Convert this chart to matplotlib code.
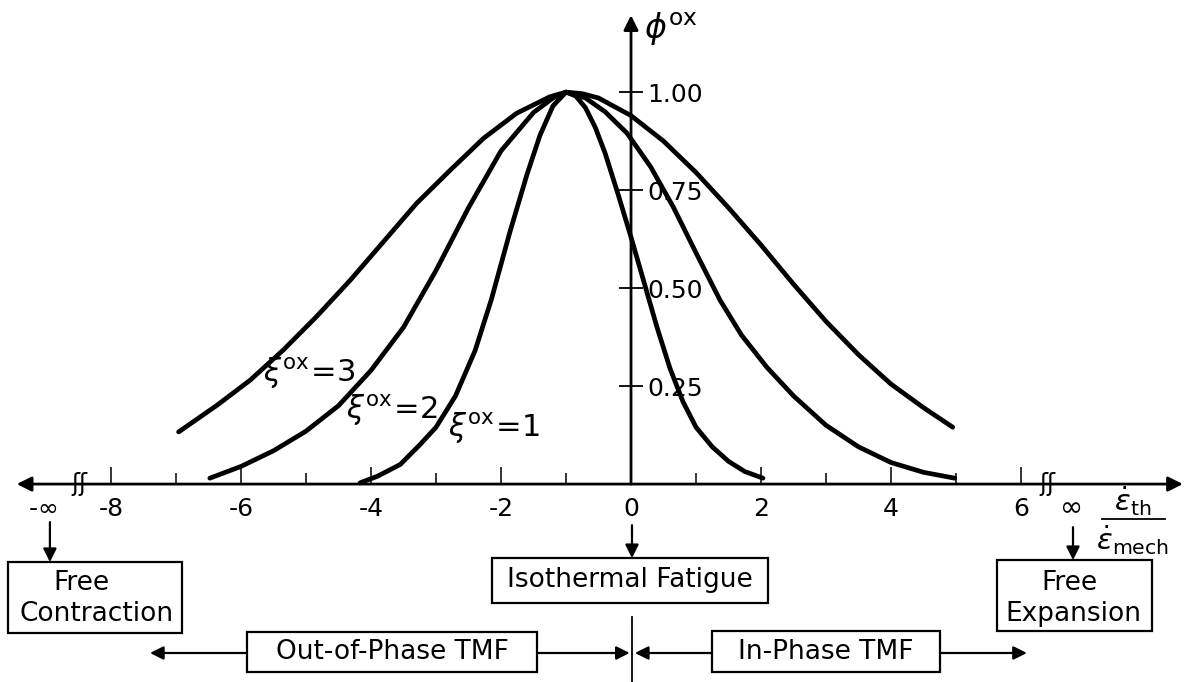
import numpy as np
import matplotlib.pyplot as plt
from matplotlib.patches import Rectangle

# values (x = eps_th/eps_mech, y = phi_ox)
x_xi1 = [-4.17, -3.9, -3.55, -3.25, -3.0, -2.7, -2.4, -2.15, -1.86, -1.6,
         -1.4, -1.2, -1.0, -0.85, -0.7, -0.55, -0.4, -0.2, 0.0, 0.2,
         0.4, 0.6, 0.8, 1.0, 1.25, 1.5, 1.75, 2.03]
phi_xi1 = [0.003, 0.02, 0.05, 0.1, 0.145, 0.225, 0.34, 0.47, 0.645, 0.79,
           0.89, 0.965, 1.0, 0.99, 0.96, 0.91, 0.845, 0.74, 0.63, 0.515,
           0.40, 0.295, 0.21, 0.145, 0.095, 0.058, 0.032, 0.015]

x_xi2 = [-6.48, -6.0, -5.5, -5.0, -4.5, -4.0, -3.5, -3.0, -2.5, -2.0,
         -1.5, -1.2, -1.0, -0.7, -0.4, -0.06, 0.3, 0.65, 1.0, 1.37,
         1.7, 2.09, 2.5, 3.0, 3.5, 4.0, 4.5, 4.98]
phi_xi2 = [0.015, 0.045, 0.085, 0.135, 0.2, 0.29, 0.4, 0.545, 0.705, 0.85,
           0.948, 0.985, 1.0, 0.985, 0.95, 0.895, 0.81, 0.707, 0.59, 0.469,
           0.38, 0.298, 0.225, 0.15, 0.095, 0.055, 0.03, 0.015]

x_xi3 = [-6.96, -6.37, -5.86, -5.35, -4.84, -4.32, -3.81, -3.30, -2.78,
         -2.27, -1.76, -1.25, -1.0, -0.75, -0.5, 0.0, 0.5, 1.0, 1.5, 2.0,
         2.5, 3.0, 3.5, 4.0, 4.5, 4.95]
phi_xi3 = [0.133, 0.201, 0.265, 0.342, 0.427, 0.52, 0.618, 0.716, 0.801,
           0.882, 0.946, 0.988, 1.0, 0.996, 0.985, 0.94, 0.875, 0.795, 0.705,
           0.61, 0.51, 0.415, 0.33, 0.255, 0.195, 0.145]

xticks_major = [-8, -6, -4, -2, 0, 2, 4, 6]
xtick_labels = ['-8', '-6', '-4', '-2', '0', '2', '4', '6']
xticks_minor = [-7, -5, -3, -1, 1, 3, 5]
yticks = [0.25, 0.50, 0.75, 1.00]
ytick_labels = ['0.25', '0.50', '0.75', '1.00']

fig = plt.figure(figsize=(11.9, 6.82), dpi=100)
ax = fig.add_axes([0, 0, 1, 1])
ax.set_xlim(-9.708, 8.6)
ax.set_ylim(-0.505, 1.235)
ax.patch.set_visible(False)

for s in ['left', 'top']:
    ax.spines[s].set_visible(False)
ax.spines['bottom'].set_position(('data', 0))
ax.spines['right'].set_position(('data', 0))
ax.spines['bottom'].set_visible(False)
ax.spines['right'].set_visible(False)

ax.set_xticks(xticks_major)
ax.set_xticklabels(xtick_labels)
ax.set_xticks(xticks_minor, minor=True)
ax.tick_params(axis='x', which='major', direction='in', length=12, width=1.1,
               pad=9, labelsize=18)
ax.tick_params(axis='x', which='minor', direction='in', length=8, width=1.1)

ax.yaxis.set_ticks_position('right')
ax.set_yticks(yticks)
ax.set_yticklabels(ytick_labels)
ax.tick_params(axis='y', direction='inout', length=17, width=1.3, pad=3,
               labelsize=18)

# axes lines with arrows
ax.annotate('', xy=(-9.45, 0), xytext=(8.49, 0),
            arrowprops=dict(arrowstyle='<|-|>', color='black', lw=2,
                            mutation_scale=22, shrinkA=0, shrinkB=0))
ax.annotate('', xy=(0, 1.196), xytext=(0, 0),
            arrowprops=dict(arrowstyle='-|>', color='black', lw=2,
                            mutation_scale=22, shrinkA=0, shrinkB=0))

# curves
for xs, ys in [(x_xi1, phi_xi1), (x_xi2, phi_xi2), (x_xi3, phi_xi3)]:
    ax.plot(xs, ys, color='black', lw=3.4, solid_capstyle='round',
            solid_joinstyle='round')

ax.text(-4.95, 0.285, r'$\xi^{\rm ox}\!=\!3$', fontsize=22, ha='center', va='center')
ax.text(-3.68, 0.19, r'$\xi^{\rm ox}\!=\!2$', fontsize=22, ha='center', va='center')
ax.text(-2.1, 0.145, r'$\xi^{\rm ox}\!=\!1$', fontsize=22, ha='center', va='center')

ax.text(0.62, 1.16, r'$\phi^{\rm ox}$', fontsize=24, ha='center', va='center')

# infinity ends and breaks
ax.text(-9.05, -0.061, r'-$\infty$', fontsize=18, ha='center', va='center')
ax.text(6.75, -0.056, r'$\infty$', fontsize=20, ha='center', va='center')
ax.text(-8.48, 0.0, 'ʃʃ', fontsize=17, ha='center', va='center')
ax.text(6.4, 0.0, 'ʃʃ', fontsize=17, ha='center', va='center')

# axis quantity
ax.text(7.72, -0.045, r'$\dot{\epsilon}_{\rm th}$', fontsize=21, ha='center', va='center')
ax.plot([7.25, 8.22], [-0.089, -0.089], color='black', lw=1.3)
ax.text(7.72, -0.143, r'$\dot{\epsilon}_{\rm mech}$', fontsize=21, ha='center', va='center')

arrow_kw = dict(arrowstyle='-|>', color='black', lw=1.6, mutation_scale=20,
                shrinkA=0, shrinkB=0)

# boxes
def box(x0, x1, y0, y1):
    ax.add_patch(Rectangle((x0, y0), x1 - x0, y1 - y0, fill=False,
                           edgecolor='black', lw=1.6, clip_on=False))

ax.annotate('', xy=(-8.94, -0.199), xytext=(-8.94, -0.097), arrowprops=arrow_kw)
box(-9.585, -6.908, -0.380, -0.199)
ax.text(-8.46, -0.252, 'Free', fontsize=19, ha='center', va='center')
ax.text(-8.22, -0.332, 'Contraction', fontsize=19, ha='center', va='center')

ax.annotate('', xy=(0.015, -0.189), xytext=(0.015, -0.105), arrowprops=arrow_kw)
box(-2.138, 2.108, -0.304, -0.189)
ax.text(-0.015, -0.245, 'Isothermal Fatigue', fontsize=19, ha='center', va='center')

ax.annotate('', xy=(6.8, -0.194), xytext=(6.8, -0.110), arrowprops=arrow_kw)
box(5.63, 8.015, -0.375, -0.194)
ax.text(6.75, -0.252, 'Free', fontsize=19, ha='center', va='center')
ax.text(6.8, -0.332, 'Expansion', fontsize=19, ha='center', va='center')

box(-5.908, -1.446, -0.480, -0.378)
ax.text(-3.677, -0.428, 'Out-of-Phase TMF', fontsize=19, ha='center', va='center')
ax.annotate('', xy=(-7.4, -0.431), xytext=(-5.908, -0.431), arrowprops=arrow_kw)
ax.annotate('', xy=(-0.02, -0.431), xytext=(-1.446, -0.431), arrowprops=arrow_kw)

box(1.246, 4.754, -0.480, -0.375)
ax.text(3.0, -0.428, 'In-Phase TMF', fontsize=19, ha='center', va='center')
ax.annotate('', xy=(0.06, -0.431), xytext=(1.246, -0.431), arrowprops=arrow_kw)
ax.annotate('', xy=(6.09, -0.431), xytext=(4.754, -0.431), arrowprops=arrow_kw)

ax.plot([0.015, 0.015], [-0.339, -0.505], color='black', lw=1.3, clip_on=False)

fig.savefig('out.png', dpi=100)
